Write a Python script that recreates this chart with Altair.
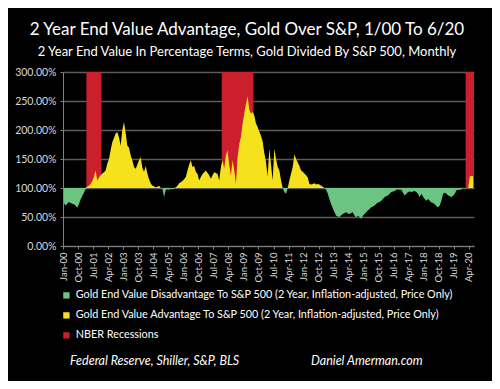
import json
import numpy as np
import pandas as pd
import altair as alt

# Monthly ratio (gold 2-yr end value / S&P 500 2-yr end value, %), Jan-00 .. Jun-20
ratio_pct = (
    [74, 70, 73, 76, 74, 73, 72, 70, 66, 72, 80, 86, 92, 98]
    + [102, 104, 107, 112, 119, 130, 113, 118, 122, 125, 127, 130, 142, 150, 165, 179,
       186, 194, 196, 188, 173, 200, 214, 195, 173, 170, 156, 148, 136, 133, 140, 148,
       153, 135, 128, 138, 125, 115, 108, 104, 103, 101, 102, 104, 100, 99, 84, 97]
    + [98, 97, 99, 98, 99, 101, 104, 108, 110, 112, 115, 119, 130, 140, 148, 136, 138,
       128, 124, 113, 119, 124, 127, 130, 126, 122, 116, 122, 127, 126, 124, 113, 136]
    + [148, 133, 156, 165, 139, 122, 148, 130, 107, 153, 176, 188, 211, 228, 245, 258,
       235, 228, 231, 225, 211, 205, 197, 190]
    + [180, 160, 145, 120, 168, 140, 113, 168, 150, 136, 130, 113, 100, 93, 90, 100,
       113, 125, 136, 158, 150, 144, 138, 130, 128, 125, 122, 118, 107, 106, 107, 108,
       106, 107, 106, 104, 102, 100, 97, 90, 80, 72, 65, 58, 52, 51, 50, 53, 55, 57,
       58, 56, 55, 57, 58, 52, 49, 52, 50, 47, 52, 55, 58, 61, 64, 67, 68, 70, 73, 75]
    + [76, 78, 81, 84, 86, 87, 90, 93, 94, 95, 97, 98, 97, 97, 92, 87, 90, 93, 94, 93,
       94, 95, 93, 90, 84, 90, 85, 81, 78, 81, 78, 75, 74, 72, 69, 67, 70, 78, 90, 92,
       90, 87, 86, 84, 87, 90, 96, 97, 97, 98, 100, 99, 100, 100, 120, 121, 120]
)
month_index = list(range(len(ratio_pct)))

# NBER recessions (month index start / end)
rec_start = [14, 95, 241]
rec_end = [23, 114, 246]

tick_labels = ["Jan-00", "Oct-00", "Jul-01", "Apr-02", "Jan-03", "Oct-03", "Jul-04",
               "Apr-05", "Jan-06", "Oct-06", "Jul-07", "Apr-08", "Jan-09", "Oct-09",
               "Jul-10", "Apr-11", "Jan-12", "Oct-12", "Jul-13", "Apr-14", "Jan-15",
               "Oct-15", "Jul-16", "Apr-17", "Jan-18", "Oct-18", "Jul-19", "Apr-20"]
y_ticks = [0, 50, 100, 150, 200, 250, 300]

series_names = [
    "Gold End Value Disadvantage To S&P 500 (2 Year, Inflation-adjusted, Price Only)",
    "Gold End Value Advantage To S&P 500 (2 Year, Inflation-adjusted, Price Only)",
    "NBER Recessions",
]
series_colors = ["#6cc483", "#f6e21c", "#cc1f2c"]

title_text = "2 Year End Value Advantage, Gold Over S&P, 1/00 To 6/20"
subtitle_text = "2 Year End Value In Percentage Terms, Gold Divided By S&P 500, Monthly"
source_text = "Federal Reserve, Shiller, S&P, BLS"
credit_text = "Daniel Amerman.com"

FONT = "Lato"

v = np.array(ratio_pct, dtype=float)
df = pd.DataFrame({"m": np.array(month_index) + 0.5, "v": v})
df["lo"] = np.minimum(v, 100)
df["hi"] = np.maximum(v, 100)
df_green = df.assign(series=series_names[0])
df_yellow = df.assign(series=series_names[1])
df_rec = pd.DataFrame({"s": rec_start, "e": rec_end, "series": series_names[2]})

x_scale = alt.Scale(domain=[0, 246], nice=False, zero=False)
y_scale = alt.Scale(domain=[0, 300], nice=False, zero=True)
x_axis = alt.Axis(
    values=list(range(0, 244, 9)),
    labelExpr=json.dumps(tick_labels) + "[round(datum.value / 9)]",
    labelAngle=-90, title=None, grid=False,
    labelColor="#d8d8d8", labelFont=FONT, labelFontSize=9.5, labelPadding=3,
    domainColor="#808080", tickColor="#808080", tickSize=3,
)
y_axis = alt.Axis(
    values=y_ticks,
    labelExpr="format(datum.value, '.2f') + '%'",
    title=None, grid=True, gridColor="#5c5c5c", gridWidth=1.5,
    labelColor="#d8d8d8", labelFont=FONT, labelFontSize=10.5, labelPadding=4,
    domainColor="#808080", tickColor="#808080", tickSize=3,
)
color_scale = alt.Scale(domain=series_names, range=series_colors)
legend = alt.Legend(
    orient="none", legendX=-2, legendY=218, title=None,
    symbolType="square", symbolSize=40, symbolStrokeWidth=0,
    labelColor="#ffffff", labelFont=FONT, labelFontSize=10.8, labelLimit=600,
    rowPadding=8, labelOffset=4,
)
color = alt.Color("series:N", scale=color_scale, legend=legend, sort=series_names)

rec = alt.Chart(df_rec).mark_rect(opacity=1).encode(
    x=alt.X("s:Q", scale=x_scale, axis=x_axis),
    x2="e:Q",
    y=alt.Y(datum=100, scale=y_scale, axis=y_axis),
    y2=alt.datum(300),
    color=color,
)
green = alt.Chart(df_green).mark_area(opacity=1).encode(
    x=alt.X("m:Q", scale=x_scale, axis=x_axis),
    y=alt.Y("lo:Q", scale=y_scale, axis=y_axis),
    y2=alt.datum(100),
    color=color,
)
yellow = alt.Chart(df_yellow).mark_area(opacity=1).encode(
    x=alt.X("m:Q", scale=x_scale, axis=x_axis),
    y=alt.Y("hi:Q", scale=y_scale, axis=y_axis),
    y2=alt.datum(100),
    color=color,
)


def label(text, px, py, size, italic=False, align="center"):
    return alt.Chart(pd.DataFrame({"t": [text]})).mark_text(
        font=FONT, fontSize=size, color="#ffffff", align=align, baseline="middle",
        fontStyle="italic" if italic else "normal",
    ).encode(text="t:N", x=alt.value(px), y=alt.value(py))


chart = alt.layer(
    rec, green, yellow,
    label(title_text, 184, -42, 17),
    label(subtitle_text, 184, -20, 13),
    label(source_text, 7, 289, 12.5, italic=True, align="left"),
    label(credit_text, 248, 289, 12.5, italic=True, align="left"),
).properties(
    width=411, height=174,
    autosize=alt.AutoSizeParams(type="none"),
    padding={"left": 55, "top": 64, "right": 18, "bottom": 135},
    background="#000000",
).configure_view(fill="#000000", stroke=None)

chart.save("out.html", embed_options={"renderer": "svg", "actions": False})
